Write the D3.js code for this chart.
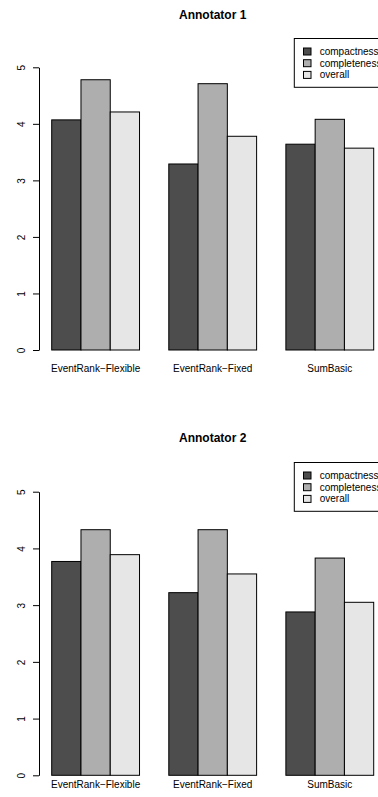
<!DOCTYPE html>
<html><head><meta charset="utf-8">
<script src="https://cdn.jsdelivr.net/npm/d3@7"></script>
<style>body{margin:0;background:#fff}svg{display:block;font-family:"Liberation Sans",Arial,sans-serif}</style>
</head><body><svg id="c" width="378" height="797"></svg>
<script>
const categories = ["EventRank\u2212Flexible", "EventRank\u2212Fixed", "SumBasic"];
const seriesNames = ["compactness", "completeness", "overall"];
const colors = ["#4D4D4D", "#AEAEAE", "#E6E6E6"];
const annotator1 = [
  [4.07, 4.78, 4.21],
  [3.29, 4.71, 3.78],
  [3.64, 4.08, 3.57]
];
const annotator2 = [
  [3.77, 4.33, 3.89],
  [3.22, 4.33, 3.55],
  [2.88, 3.83, 3.05]
];
const tickValues = [0, 1, 2, 3, 4, 5];
const panels = [
  {title: "Annotator 1", data: annotator1, y0: 350, y5: 67.3, titleY: 19, labelY: 372, legendTop: 38.5},
  {title: "Annotator 2", data: annotator2, y0: 775.3, y5: 491.7, titleY: 442, labelY: 788, legendTop: 462.5}
];

const svg = d3.select("#c");
const x0 = d3.scaleBand().domain(categories).range([51.7, 373.7]).paddingInner(0.25).paddingOuter(0);
const x1 = d3.scaleBand().domain(seriesNames).range([0, x0.bandwidth()]).padding(0);
const color = d3.scaleOrdinal().domain(seriesNames).range(colors);

panels.forEach(p => {
  const g = svg.append("g");
  const y = d3.scaleLinear().domain([0, 5]).range([p.y0, p.y5]);

  g.append("text").attr("x", 212.7).attr("y", p.titleY).attr("text-anchor", "middle")
    .attr("font-weight", "bold").attr("font-size", 12).text(p.title);

  const grp = g.selectAll("g.grp").data(categories).join("g")
    .attr("transform", d => `translate(${x0(d)},0)`);
  grp.each(function(cat, i) {
    d3.select(this).selectAll("rect").data(seriesNames).join("rect")
      .attr("x", s => x1(s))
      .attr("width", x1.bandwidth())
      .attr("y", (s, j) => y(p.data[i][j]))
      .attr("height", (s, j) => y(0) - y(p.data[i][j]))
      .attr("fill", s => color(s))
      .attr("stroke", "#000").attr("stroke-width", 1);
  });

  const ax = g.append("g").attr("transform", "translate(39,0)")
    .call(d3.axisLeft(y).tickValues(tickValues).tickSize(6).tickSizeOuter(0).tickFormat(d3.format("d")));
  ax.select(".domain").attr("stroke", "#000").attr("stroke-width", 1);
  ax.selectAll(".tick line").attr("stroke", "#000");
  ax.selectAll(".tick text").attr("font-size", 10).attr("font-family", "Liberation Sans, Arial, sans-serif")
    .attr("fill", "#000")
    .attr("x", null).attr("dy", null).attr("text-anchor", "middle")
    .attr("transform", "translate(-14.5,0) rotate(-90)");

  g.selectAll("text.cat").data(categories).join("text").attr("class", "cat")
    .attr("x", d => x0(d) + x0.bandwidth() / 2).attr("y", p.labelY)
    .attr("text-anchor", "middle").attr("font-size", 10).text(d => d);

  const lg = g.append("g");
  lg.append("rect").attr("x", 294.3).attr("y", p.legendTop).attr("width", 100).attr("height", 48.8)
    .attr("fill", "#fff").attr("stroke", "#000").attr("stroke-width", 1);
  seriesNames.forEach((s, j) => {
    const cy = p.legendTop + 13 + j * 11.7;
    lg.append("rect").attr("x", 303.5).attr("y", cy - 3.5).attr("width", 7.5).attr("height", 7)
      .attr("fill", color(s)).attr("stroke", "#000").attr("stroke-width", 1);
    lg.append("text").attr("x", 319.7).attr("y", cy + 3.5).attr("font-size", 10).text(s);
  });
});
</script></body></html>
